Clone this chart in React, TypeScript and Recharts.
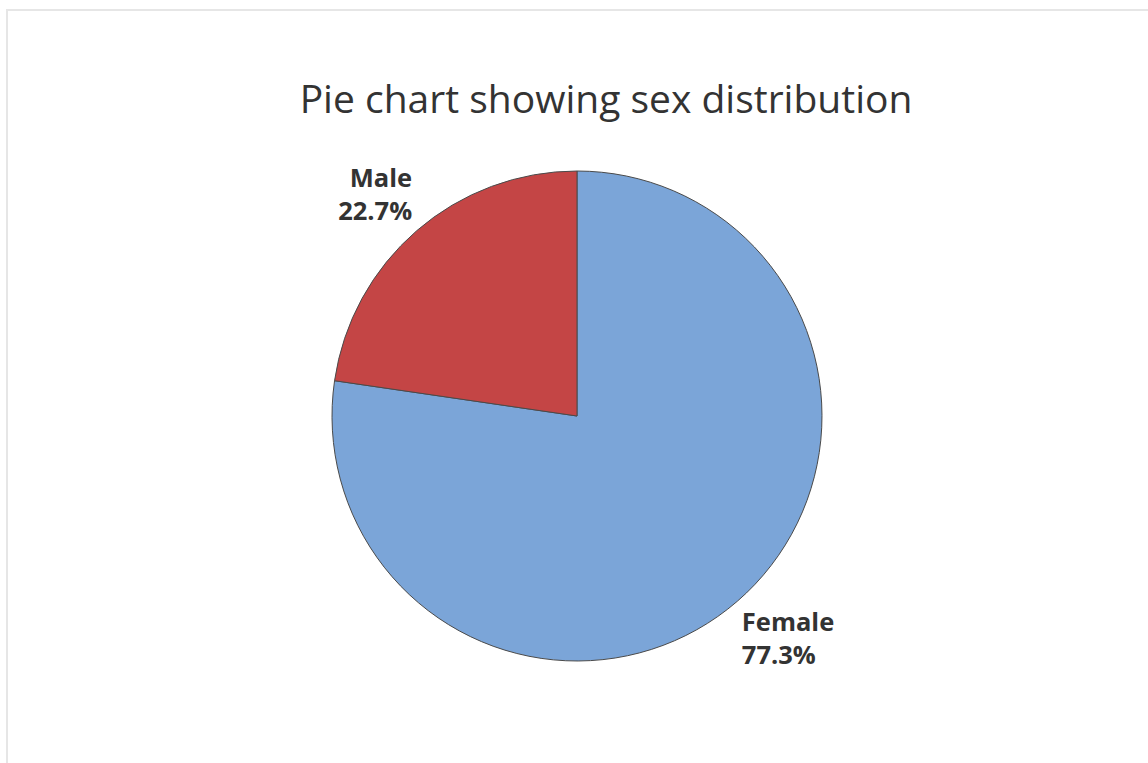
import { PieChart, Pie, Cell } from "recharts";

// Sex distribution (percent)
const SEXES = ["Female", "Male"];
const SHARES = [77.3, 22.7];
const SLICE_COLORS = ["#7BA5D8", "#C44545"];

const data = SEXES.map((name, i) => ({ name, value: SHARES[i] }));

const RADIAN = Math.PI / 180;

const renderLabel = (props: any) => {
  const { cx, cy, midAngle, outerRadius, name, percent } = props;
  const cos = Math.cos(-midAngle * RADIAN);
  const sin = Math.sin(-midAngle * RADIAN);
  const x = cx + (outerRadius + 7) * cos;
  const y = cy + (outerRadius + 49) * sin;
  const anchor = cos >= 0 ? "start" : "end";
  return (
    <text
      x={x}
      y={y}
      textAnchor={anchor}
      fill="#333333"
      fontSize={25.5}
      fontWeight={700}
      fontFamily="'Open Sans', sans-serif"
    >
      <tspan x={x} y={y - 7}>{name}</tspan>
      <tspan x={x} y={y + 26}>{`${(percent * 100).toFixed(1)}%`}</tspan>
    </text>
  );
};

export default function App() {
  return (
    <div
      style={{
        position: "fixed",
        left: 0,
        top: 0,
        width: 1148,
        height: 763,
        background: "#ffffff",
        overflow: "hidden",
      }}
    >
      <div
        style={{
          position: "absolute",
          left: 6,
          top: 9,
          width: 1140,
          height: 800,
          borderTop: "2px solid #e6e6e6",
          borderLeft: "2px solid #e6e6e6",
          borderRight: "2px solid #e6e6e6",
        }}
      />
      <div
        style={{
          position: "absolute",
          left: 0,
          width: 1212,
          top: 78,
          textAlign: "center",
          fontFamily: "'Open Sans', sans-serif",
          fontSize: 39,
          lineHeight: "40px",
          color: "#333333",
        }}
      >
        Pie chart showing sex distribution
      </div>
      <div style={{ position: "absolute", left: 0, top: 0 }}>
        <PieChart width={1148} height={763}>
          <Pie
            data={data}
            dataKey="value"
            nameKey="name"
            cx={572}
            cy={411}
            outerRadius={245}
            startAngle={90}
            endAngle={-270}
            label={renderLabel}
            labelLine={false}
            isAnimationActive={false}
          >
            {data.map((entry, index) => (
              <Cell
                key={`cell-${entry.name}`}
                fill={SLICE_COLORS[index]}
                stroke="#4a4a4a"
                strokeWidth={1}
              />
            ))}
          </Pie>
        </PieChart>
      </div>
    </div>
  );
}
